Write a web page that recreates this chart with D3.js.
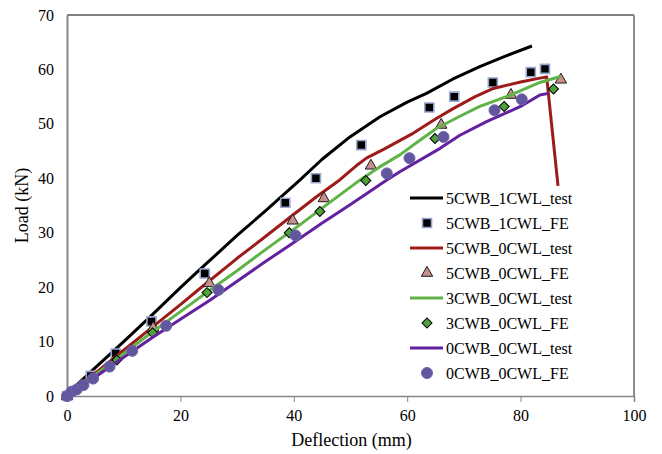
<!DOCTYPE html>
<html>
<head>
<meta charset="utf-8">
<script src="https://cdn.jsdelivr.net/npm/d3@7"></script>
<style>
  body { margin: 0; background: #fff; }
</style>
</head>
<body>
<svg></svg>
<script>
// load-deflection curves, values

let xTicks = [0, 20, 40, 60, 80, 100];
let yTicks = [0, 10, 20, 30, 40, 50, 60, 70];

let test5CWB1CWL = [[0,0],[2.3,2.6],[5,5.2],[10,10.0],[14.6,14.5],[20,19.9],[23.5,23.3],[30,29.5],[35,34.0],[41.1,39.7],[45,43.5],[49.9,47.6],[55.2,51.3],[60,54.0],[63.4,55.6],[68,58.2],[72.8,60.5],[77,62.3],[82,64.3]];
let fe5CWB1CWL = [[0,0],[4.2,3.7],[8.6,7.8],[14.9,13.7],[24.3,22.5],[38.5,35.5],[43.9,40.0],[51.9,46.1],[63.9,53.0],[68.3,55.0],[75.1,57.6],[81.8,59.5],[84.3,60.1]];

let test5CWB0CWL = [[0,0],[5,4.2],[10,8.4],[15,12.6],[20,16.8],[23.5,19.8],[30,25.3],[35,29.3],[39.9,33.3],[44,36.6],[48.1,39.7],[51,42.3],[52.8,43.7],[56,45.4],[61.1,48.3],[65,50.9],[68.1,52.8],[72,55.0],[75.2,56.5],[80,57.7],[83.4,58.4],[84.6,58.6],[86.6,38.6]];
let fe5CWB0CWL = [[0,0],[15.2,12.5],[25.1,20.7],[39.8,32.2],[45.3,36.3],[53.6,42.3],[66.0,49.8],[78.3,55.3],[87.1,58.1]];

let test3CWB0CWL = [[0,0],[5,3.9],[10,7.8],[15,11.7],[20,15.5],[25,19.3],[30,23.0],[35,26.9],[41,31.4],[46,35.3],[51.7,39.7],[55,42.0],[58.7,44.3],[62,46.8],[65.2,49.2],[69.3,51.4],[72.8,53.2],[78,55.2],[83.4,57.6],[87,58.7]];
let fe3CWB0CWL = [[0,0],[8.8,6.6],[15.1,11.6],[24.7,19.0],[39.2,30.0],[44.6,33.9],[52.7,39.6],[64.9,47.3],[77.1,53.2],[85.8,56.4]];

let test0CWB0CWL = [[0,0],[5,3.5],[10,7.1],[15,10.7],[20,14.1],[25.2,17.6],[30,21.1],[35,24.7],[40,28.2],[45,31.8],[50,35.2],[56.4,39.7],[58.7,41.2],[65.8,45.5],[69.3,47.9],[74,50.4],[80,53.2],[83.4,55.3],[84.9,55.6]];
let fe0CWB0CWL = [[0,0],[0.8,0.8],[1.7,1.2],[2.9,2.0],[4.6,3.2],[7.5,5.4],[11.5,8.3],[17.5,12.9],[26.7,19.5],[40.3,29.5],[56.4,40.9],[60.4,43.7],[66.4,47.6],[75.4,52.5],[80.2,54.5]];

let series = [
  {name: "5CWB_1CWL_test", type: "line", data: test5CWB1CWL, color: "#000000"},
  {name: "5CWB_1CWL_FE", type: "square", data: fe5CWB1CWL, fill: "#000000", stroke: "#9aa6d2"},
  {name: "5CWB_0CWL_test", type: "line", data: test5CWB0CWL, color: "#9e1b1b"},
  {name: "5CWB_0CWL_FE", type: "triangle", data: fe5CWB0CWL, fill: "#c68e8c", stroke: "#1a1a1a"},
  {name: "3CWB_0CWL_test", type: "line", data: test3CWB0CWL, color: "#5fb347"},
  {name: "3CWB_0CWL_FE", type: "diamond", data: fe3CWB0CWL, fill: "#4da23a", stroke: "#000000"},
  {name: "0CWB_0CWL_test", type: "line", data: test0CWB0CWL, color: "#6321a0"},
  {name: "0CWB_0CWL_FE", type: "circle", data: fe0CWB0CWL, fill: "#62579f", stroke: "#6e63a8"}
];

let serif = "Liberation Serif";

let svgWidth = 662;
let svgHeight = 454;
let plotLeft = 67, plotRight = 634, plotTop = 15, plotBottom = 396;

let svg = d3.select("svg")
  .attr("width", svgWidth)
  .attr("height", svgHeight);

let x = d3.scaleLinear().domain([0, 100]).range([plotLeft, plotRight]);
let y = d3.scaleLinear().domain([0, 70]).range([plotBottom, plotTop]);

// frame
svg.append("line").attr("x1", plotLeft).attr("x2", plotRight).attr("y1", plotTop).attr("y2", plotTop)
  .attr("stroke", "#000").attr("stroke-width", 1.2);
svg.append("line").attr("x1", plotRight).attr("x2", plotRight).attr("y1", plotTop).attr("y2", plotBottom)
  .attr("stroke", "#8c8c8c").attr("stroke-width", 2);

// x axis
let xAxis = svg.append("g")
  .attr("transform", "translate(0," + plotBottom + ")")
  .call(d3.axisBottom(x).tickValues(xTicks).tickSize(6).tickPadding(8));
xAxis.attr("font-family", serif).attr("font-size", 16);
xAxis.select(".domain").attr("stroke", "#868686").attr("stroke-width", 1.5);
xAxis.selectAll(".tick line").attr("stroke", "#868686");
xAxis.selectAll("text").attr("fill", "#000");

// y axis
let yAxis = svg.append("g")
  .attr("transform", "translate(" + plotLeft + ",0)")
  .call(d3.axisLeft(y).tickValues(yTicks).tickSize(0).tickPadding(13));
yAxis.attr("font-family", serif).attr("font-size", 16);
yAxis.select(".domain").attr("stroke", "#868686").attr("stroke-width", 2);
yAxis.selectAll("text").attr("fill", "#000");

// axis titles
svg.append("text")
  .attr("x", (plotLeft + plotRight) / 2 + 1)
  .attr("y", 446)
  .attr("text-anchor", "middle")
  .attr("font-family", serif)
  .attr("font-size", 18)
  .text("Deflection (mm)");

svg.append("text")
  .attr("transform", "translate(28," + (plotTop + plotBottom) / 2 + ") rotate(-90)")
  .attr("text-anchor", "middle")
  .attr("font-family", serif)
  .attr("font-size", 18)
  .text("Load (kN)");

let line = d3.line()
  .x(function(d) { return x(d[0]); })
  .y(function(d) { return y(d[1]); });

function symbolFor(type) {
  if (type == "square" || type == "diamond") return d3.symbol().type(d3.symbolSquare).size(type == "square" ? 82 : 50);
  if (type == "triangle") return d3.symbol().type(d3.symbolTriangle).size(56);
  return d3.symbol().type(d3.symbolCircle).size(95);
}

function place(type, px, py) {
  return "translate(" + px + "," + py + ")" + (type == "diamond" ? " rotate(45)" : "");
}

// plot, in legend order
series.forEach(function(s) {
  if (s.type == "line") {
    svg.append("path")
      .datum(s.data)
      .attr("d", line)
      .attr("fill", "none")
      .attr("stroke", s.color)
      .attr("stroke-width", 3)
      .attr("stroke-linejoin", "round");
  } else {
    svg.append("g").selectAll("path")
      .data(s.data)
      .enter()
      .append("path")
      .attr("d", symbolFor(s.type))
      .attr("transform", function(d) { return place(s.type, x(d[0]), y(d[1])); })
      .attr("fill", s.fill)
      .attr("stroke", s.stroke)
      .attr("stroke-width", s.type == "square" ? 1.6 : 1);
  }
});

// legend
let legend = svg.append("g").selectAll("g")
  .data(series)
  .enter()
  .append("g")
  .attr("transform", function(d, i) { return "translate(0," + (198 + i * 25) + ")"; });

legend.each(function(s) {
  let g = d3.select(this);
  if (s.type == "line") {
    g.append("line").attr("x1", 410).attr("x2", 443).attr("y1", 0).attr("y2", 0)
      .attr("stroke", s.color).attr("stroke-width", 3);
  } else {
    g.append("path")
      .attr("d", symbolFor(s.type))
      .attr("transform", place(s.type, 427, 0))
      .attr("fill", s.fill)
      .attr("stroke", s.stroke)
      .attr("stroke-width", s.type == "square" ? 1.6 : 1);
  }
  g.append("text")
    .attr("x", 446)
    .attr("y", 0)
    .attr("dy", "0.35em")
    .attr("font-family", serif)
    .attr("font-size", 16)
    .text(s.name);
});
</script>
</body>
</html>
